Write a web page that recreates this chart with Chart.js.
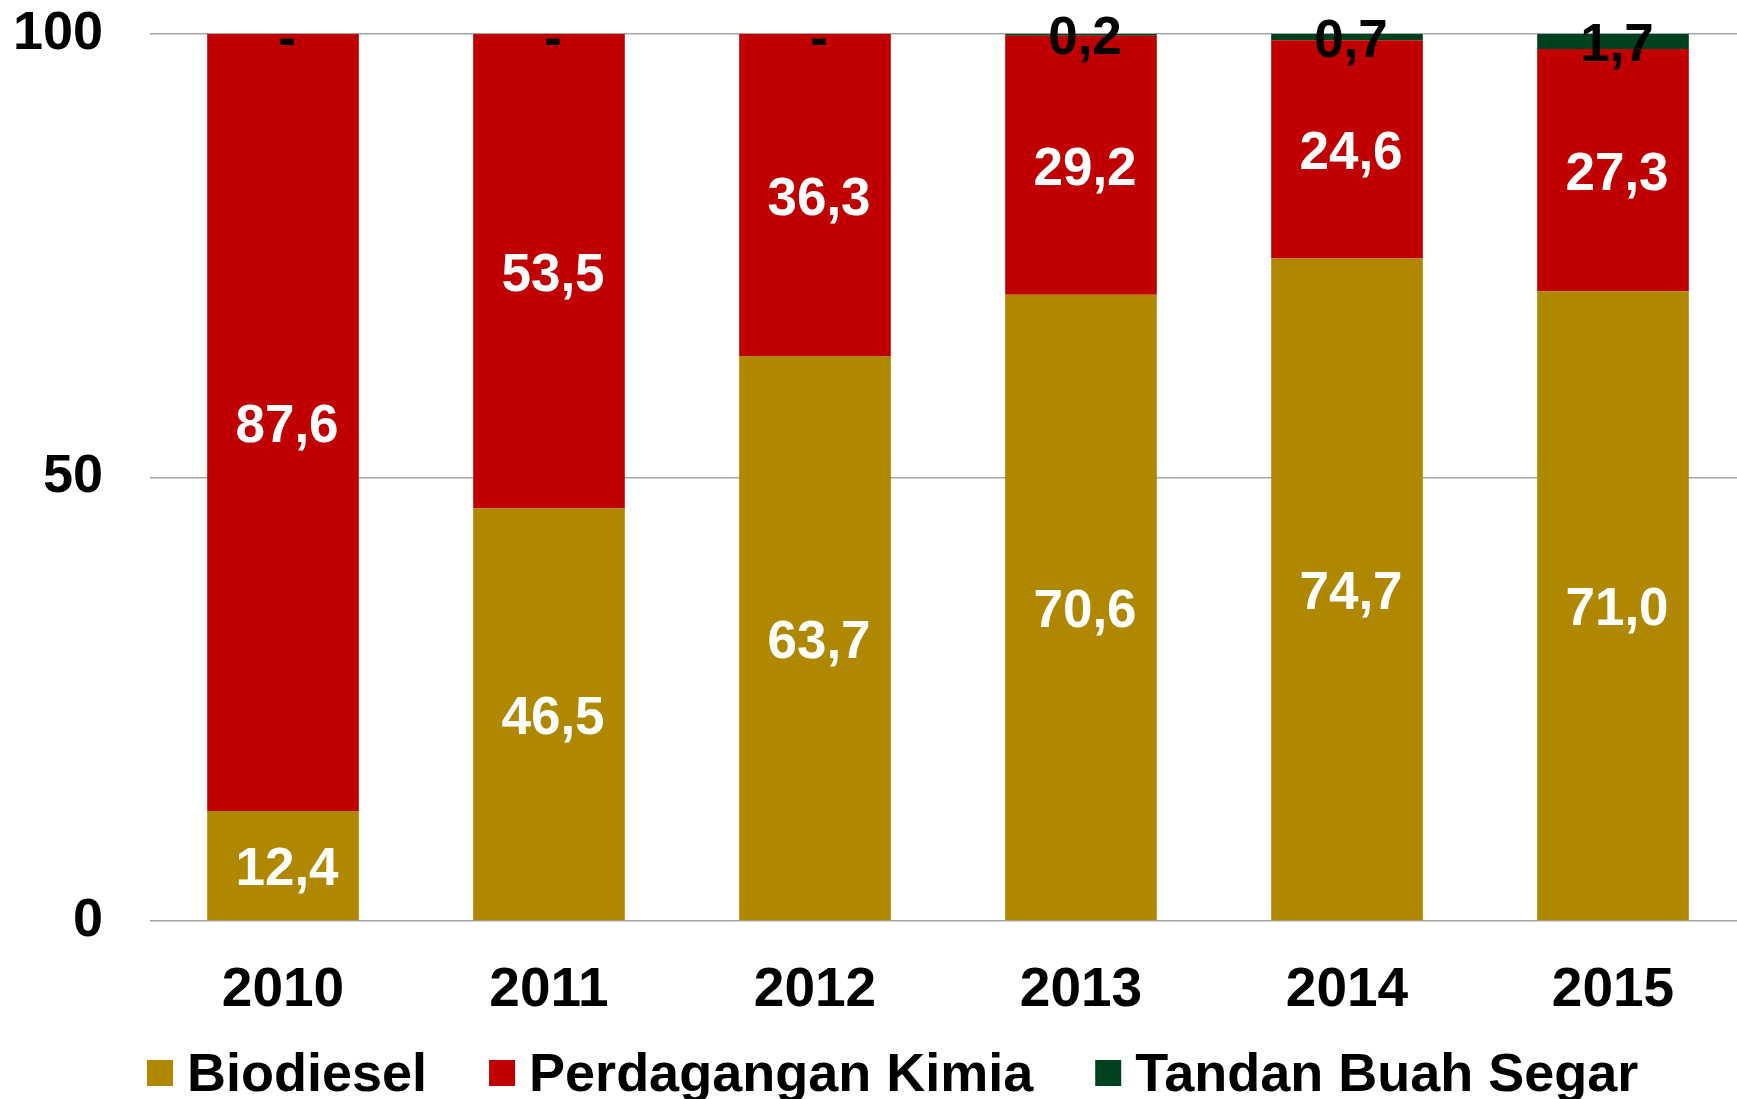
<!DOCTYPE html>
<html>
<head>
<meta charset="utf-8">
<script src="https://cdn.jsdelivr.net/npm/chart.js@4"></script>
<style>
  html, body { margin: 0; padding: 0; background: #fff; overflow: hidden; }
  /* plot area runs slightly past the right edge in the original */
  #wrap { width: 1746px; height: 1099px; }
</style>
</head>
<body>
<div id="wrap"><canvas id="chart"></canvas></div>
<script>
const years = ["2010", "2011", "2012", "2013", "2014", "2015"];
const biodiesel = [12.4, 46.5, 63.7, 70.6, 74.7, 71.0];
const perdagangan = [87.6, 53.5, 36.3, 29.2, 24.6, 27.3];
const tandan = [0, 0, 0, 0.2, 0.7, 1.7];
const yTicks = [0, 50, 100];

const FONT = "'Liberation Sans', Arial, sans-serif";

// draws the value in the middle of each stacked segment, "-" for zero
const segLabels = {
  id: "segLabels",
  afterDatasetsDraw(chart) {
    const ctx = chart.ctx;
    ctx.save();
    ctx.font = "bold 53px " + FONT;
    ctx.textAlign = "center";
    ctx.textBaseline = "middle";
    chart.data.datasets.forEach((ds, i) => {
      const meta = chart.getDatasetMeta(i);
      meta.data.forEach((bar, j) => {
        const v = ds.data[j];
        const txt = v === 0 ? "-" : v.toFixed(1).replace(".", ",");
        let y = (bar.y + bar.base) / 2 + 5;
        if (v === 0) y += 2;
        ctx.fillStyle = ds.labelColor;
        ctx.fillText(txt, bar.x + 4, y);
      });
    });
    ctx.restore();
  },
};

// legend drawn by hand so box/text gaps match the original
const bottomLegend = {
  id: "bottomLegend",
  afterDraw(chart) {
    const ctx = chart.ctx;
    ctx.save();
    ctx.font = "bold 54px " + FONT;
    ctx.textBaseline = "alphabetic";
    ctx.textAlign = "left";
    let x = 147;
    const baseY = 1091;
    chart.data.datasets.forEach((ds) => {
      ctx.fillStyle = ds.backgroundColor;
      ctx.fillRect(x, 1060, 26, 26);
      x += 26 + 14;
      ctx.fillStyle = "#000";
      ctx.fillText(ds.label, x, baseY);
      x += ctx.measureText(ds.label).width + 62;
    });
    ctx.restore();
  },
};

const ctx = document.getElementById("chart").getContext("2d");
new Chart(ctx, {
  type: "bar",
  data: {
    labels: years,
    datasets: [
      {
        label: "Biodiesel",
        data: biodiesel,
        backgroundColor: "#B08800",
        labelColor: "#FFFFFF",
        categoryPercentage: 1,
        barPercentage: 0.57,
      },
      {
        label: "Perdagangan Kimia",
        data: perdagangan,
        backgroundColor: "#C00000",
        labelColor: "#FFFFFF",
        categoryPercentage: 1,
        barPercentage: 0.57,
      },
      {
        label: "Tandan Buah Segar",
        data: tandan,
        backgroundColor: "#00421E",
        labelColor: "#000000",
        categoryPercentage: 1,
        barPercentage: 0.57,
      },
    ],
  },
  options: {
    responsive: true,
    maintainAspectRatio: false,
    animation: false,
    layout: { padding: { top: 34, right: 0, left: 0, bottom: 0 } },
    plugins: {
      legend: { display: false },
      tooltip: { enabled: false },
    },
    scales: {
      x: {
        stacked: true,
        afterFit: (s) => { s.height = 178; },
        grid: { display: false },
        border: { display: false },
        ticks: {
          color: "#000",
          font: { family: FONT, size: 55, weight: "bold" },
          padding: 29,
        },
      },
      y: {
        stacked: true,
        min: 0,
        max: 100,
        afterFit: (s) => { s.width = 150; },
        afterBuildTicks: (s) => { s.ticks = yTicks.map((v) => ({ value: v })); },
        grid: {
          color: "#A6A6A6",
          lineWidth: 1.5,
          drawTicks: true,
          tickLength: 47,
          tickColor: "rgba(0,0,0,0)",
        },
        border: { display: false },
        ticks: {
          color: "#000",
          font: { family: FONT, size: 54, weight: "bold" },
          padding: 0,
        },
      },
    },
  },
  plugins: [segLabels, bottomLegend],
});
</script>
</body>
</html>
